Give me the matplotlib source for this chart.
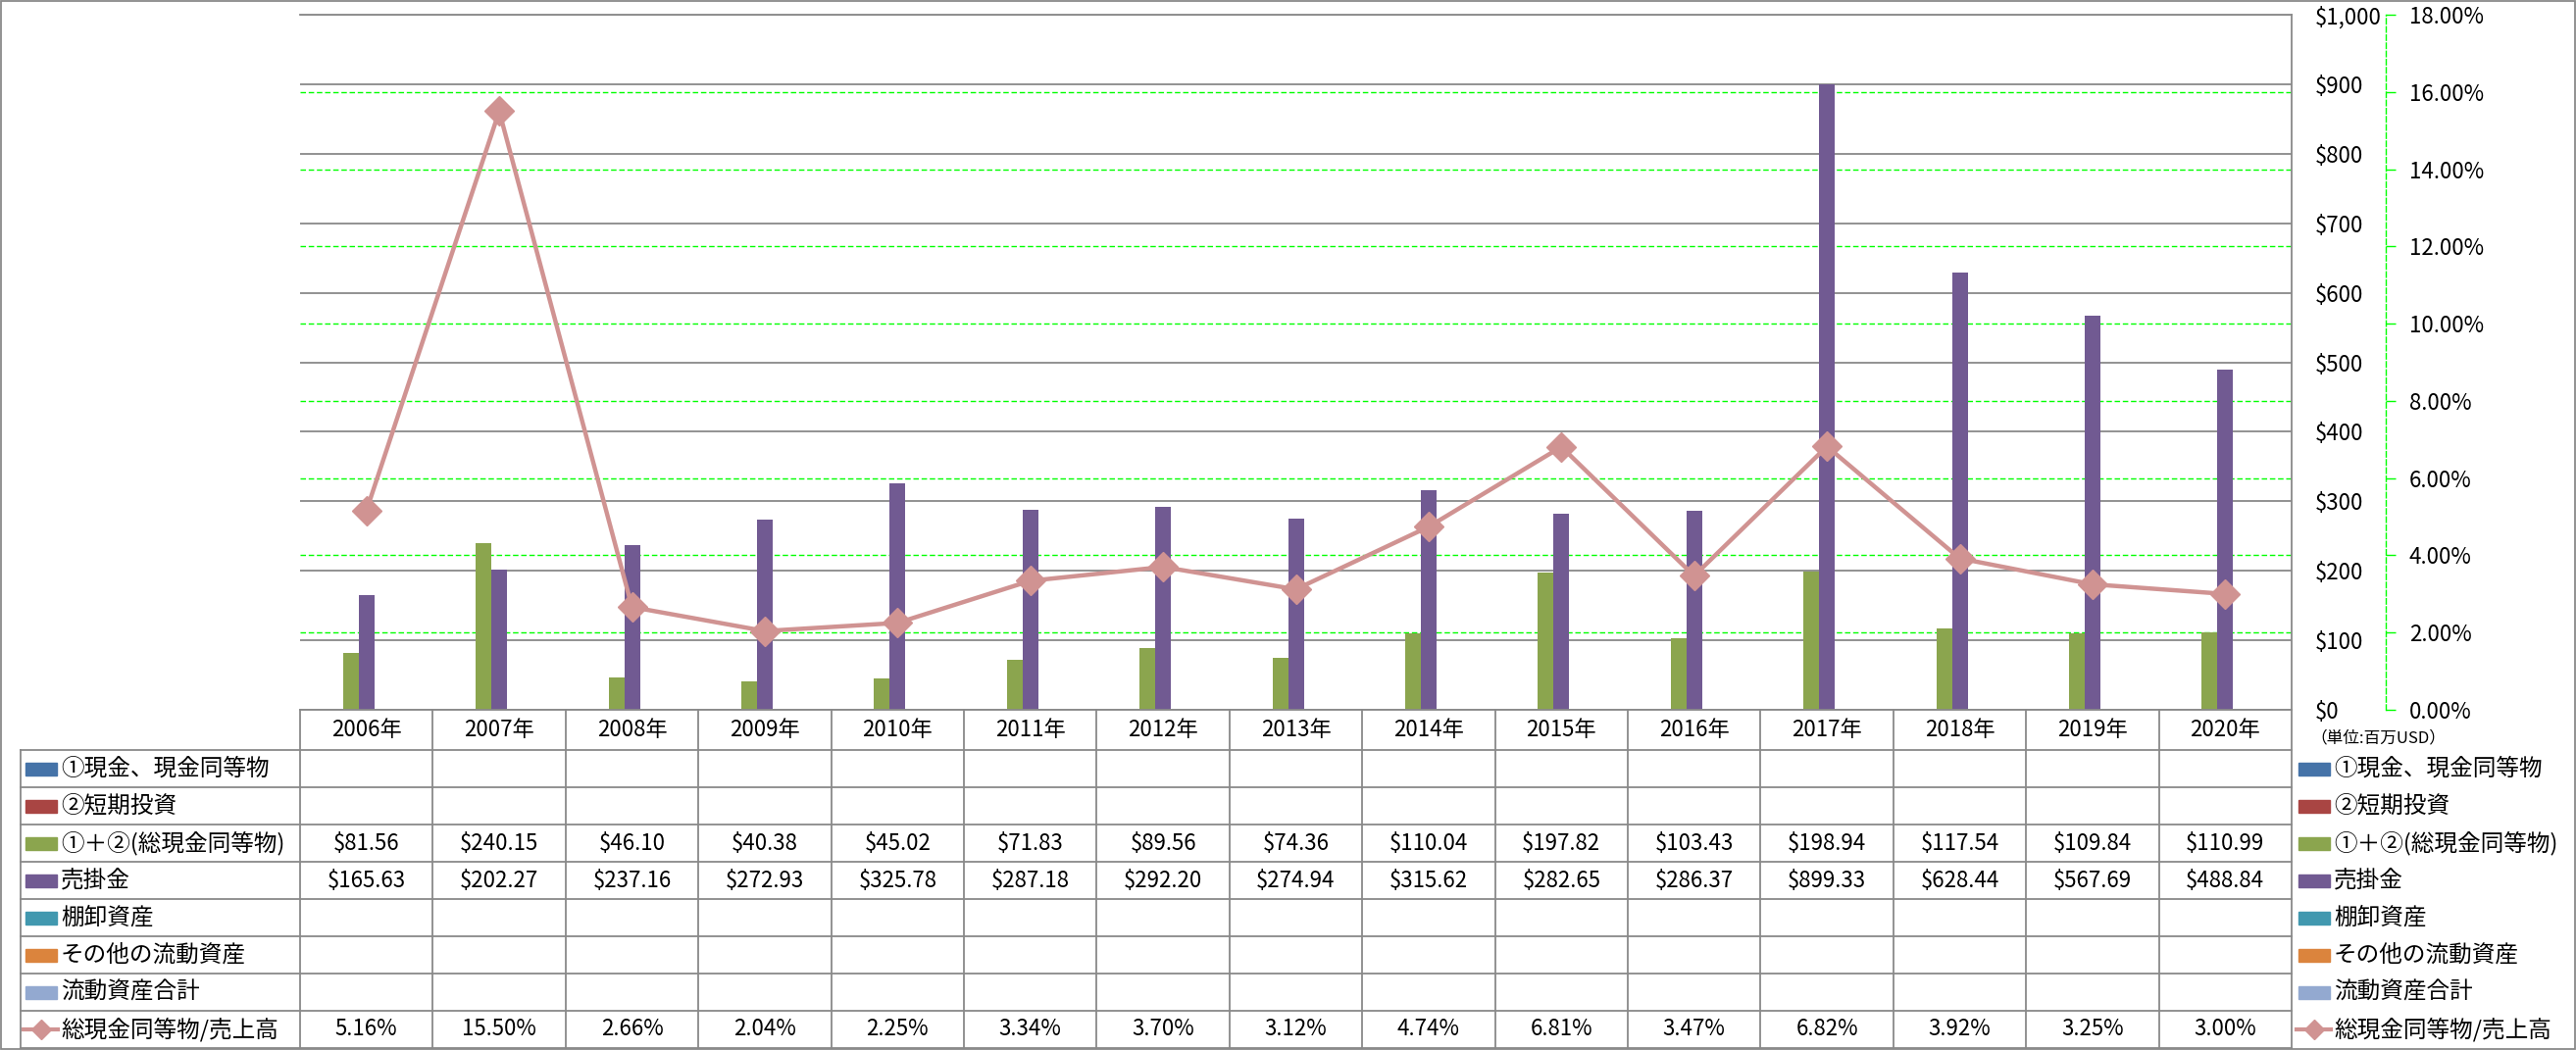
import matplotlib.pyplot as plt
from matplotlib.patches import Rectangle
from matplotlib.lines import Line2D
import numpy as np

plt.rcParams['font.family'] = ['Noto Sans CJK JP', 'DejaVu Sans']

years = ['2006年', '2007年', '2008年', '2009年', '2010年', '2011年', '2012年', '2013年',
         '2014年', '2015年', '2016年', '2017年', '2018年', '2019年', '2020年']
cash_total = [81.56, 240.15, 46.10, 40.38, 45.02, 71.83, 89.56, 74.36,
              110.04, 197.82, 103.43, 198.94, 117.54, 109.84, 110.99]
receivables = [165.63, 202.27, 237.16, 272.93, 325.78, 287.18, 292.20, 274.94,
               315.62, 282.65, 286.37, 899.33, 628.44, 567.69, 488.84]
cash_ratio = [5.16, 15.50, 2.66, 2.04, 2.25, 3.34, 3.70, 3.12,
              4.74, 6.81, 3.47, 6.82, 3.92, 3.25, 3.00]
series_names = ['①現金、現金同等物', '②短期投資', '①＋②(総現金同等物)', '売掛金',
                '棚卸資産', 'その他の流動資産', '流動資産合計', '総現金同等物/売上高']
series_colors = ['#4573A8', '#A94543', '#8BA54E', '#715A92',
                 '#4198AF', '#DB843D', '#93A9D0', '#D09392']

# table rows (empty series stay blank)
row_text = [[''] * 15, [''] * 15,
            ['$%.2f' % v for v in cash_total],
            ['$%.2f' % v for v in receivables],
            [''] * 15, [''] * 15, [''] * 15,
            ['%.2f%%' % v for v in cash_ratio]]

W, H = 2627, 1071
L, R, T, B = 306, 2337, 15, 724
n = len(years)
col_w = (R - L) / n
gray = '#898989'
lime = '#00FF00'

fig = plt.figure(figsize=(W / 100, H / 100), dpi=100)
ax = fig.add_axes([L / W, 1 - B / H, (R - L) / W, (B - T) / H])

x = np.arange(n)
bw = 16 / col_w
ax.bar(x - bw, cash_total, bw, color=series_colors[2], zorder=2)
ax.bar(x, receivables, bw, color=series_colors[3], zorder=2)

ax.set_xlim(-0.5, n - 0.5)
ax.set_ylim(0, 1000)
ax.set_xticks([])
yt = np.arange(0, 1001, 100)
ax.set_yticks(yt)
ax.set_yticklabels(['${:,}'.format(v) for v in yt])
ax.yaxis.grid(True, color=gray, lw=1.3)
ax.set_axisbelow(True)
for p in range(2, 18, 2):
    ax.axhline(p / 18 * 1000, color=lime, lw=1, ls=(0, (4, 2)), zorder=0.6)
ax.spines['left'].set_visible(False)
for s in ['top', 'right', 'bottom']:
    ax.spines[s].set_color(gray)
    ax.spines[s].set_linewidth(1.3)

ax2 = ax.twinx()
ax.yaxis.tick_right()
ax.tick_params(axis='y', length=0, pad=17, labelsize=16)
ax2.set_ylim(0, 18)
pt = np.arange(0, 19, 2)
ax2.set_yticks(pt)
ax2.set_yticklabels(['%.2f%%' % v for v in pt])
for s in ['top', 'left', 'bottom']:
    ax2.spines[s].set_visible(False)
ax2.spines['right'].set_position(('axes', (2433 - L) / (R - L)))
ax2.spines['right'].set_color(lime)
ax2.spines['right'].set_linestyle((0, (4, 2)))
ax2.spines['right'].set_linewidth(1)
ax2.tick_params(axis='y', direction='out', length=7, width=1, color=lime,
                pad=10, labelsize=16)
ax2.plot(x, cash_ratio, color=series_colors[7], lw=3.2, marker='D', ms=15,
         mec=series_colors[7], zorder=5)

# overlay in pixel coordinates for the data table and legend
ov = fig.add_axes([0, 0, 1, 1])
ov.set_xlim(0, W)
ov.set_ylim(H, 0)
ov.axis('off')
ov.add_patch(Rectangle((0.5, 0.5), W - 1.5, H - 1.5, fill=False, ec=gray, lw=1.3))

row_h = 38
top = 765
for k in range(9):
    y = top + k * row_h
    ov.plot([21, R], [y, y], color=gray, lw=1.3)
ov.plot([21, 21], [top, top + 8 * row_h], color=gray, lw=1.3)
for k in range(n + 1):
    xx = L + k * col_w
    ov.plot([xx, xx], [B, top + 8 * row_h], color=gray, lw=1.3)

for i, yr in enumerate(years):
    ov.text(L + (i + 0.5) * col_w, (B + top) / 2, yr, ha='center', va='center', fontsize=16)

for r, name in enumerate(series_names):
    yc = top + (r + 0.5) * row_h
    for i, t in enumerate(row_text[r]):
        if t:
            ov.text(L + (i + 0.5) * col_w, yc, t, ha='center', va='center', fontsize=16)
    for sx, tx in [(26, 62), (2344, 2380)]:
        if r == 7:
            ov.add_line(Line2D([sx - 2, sx + 33], [yc, yc], color=series_colors[r], lw=3))
            ov.plot([sx + 15.5], [yc], marker='D', ms=10, color=series_colors[r])
        else:
            ov.add_patch(Rectangle((sx, yc - 6.5), 32, 13, color=series_colors[r]))
        ov.text(tx, yc, name, ha='left', va='center', fontsize=17)

ov.text(2356, 753, '（単位:百万USD）', ha='left', va='center', fontsize=12)

fig.savefig('out.png', dpi=100)
